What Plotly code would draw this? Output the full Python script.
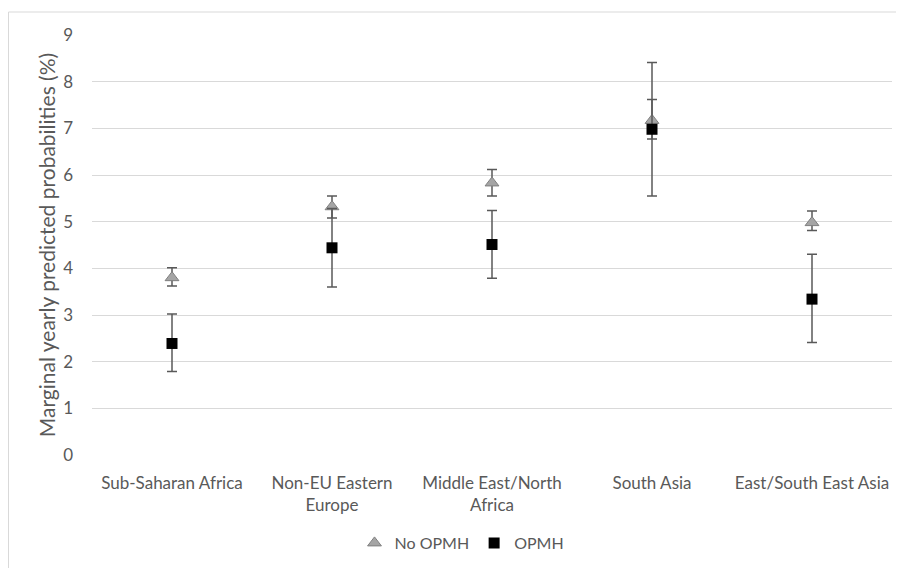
import plotly.graph_objects as go

categories = ["Sub-Saharan Africa", "Non-EU Eastern<br>Europe", "Middle East/North<br>Africa",
              "South Asia", "East/South East Asia"]
no_opmh = [3.80, 5.32, 5.83, 7.17, 4.98]
no_opmh_hi = [4.01, 5.55, 6.12, 7.62, 5.23]
no_opmh_lo = [3.62, 5.08, 5.55, 6.77, 4.81]
opmh = [2.39, 4.44, 4.51, 6.98, 3.34]
opmh_hi = [3.02, 5.28, 5.24, 8.41, 4.30]
opmh_lo = [1.79, 3.60, 3.79, 5.55, 2.41]

x = list(range(len(categories)))
font = "Lato, 'Open Sans', sans-serif"
grey = "#595959"

OFF = 8  # page body margin
W, H = 904, 568
L, R, T, B = 92 - OFF, W - (892 - OFF), 35 - OFF, H - (455 - OFF)
pw, ph = W - L - R, H - T - B

def px(xp):
    return (xp - OFF - L) / pw

def py(yp):
    return (H - B - (yp - OFF)) / ph

fig = go.Figure()
fig.add_trace(go.Scatter(
    x=x, y=no_opmh, mode="markers", name="No OPMH",
    marker=dict(symbol="triangle-up", size=12, color="#a5a5a5",
                line=dict(color="#7f7f7f", width=1)),
    error_y=dict(type="data", symmetric=False,
                 array=[h - v for h, v in zip(no_opmh_hi, no_opmh)],
                 arrayminus=[v - l for l, v in zip(no_opmh_lo, no_opmh)],
                 color=grey, thickness=1.5, width=5),
))
fig.add_trace(go.Scatter(
    x=x, y=opmh, mode="markers", name="OPMH",
    marker=dict(symbol="square", size=11, color="#000000"),
    error_y=dict(type="data", symmetric=False,
                 array=[h - v for h, v in zip(opmh_hi, opmh)],
                 arrayminus=[v - l for l, v in zip(opmh_lo, opmh)],
                 color=grey, thickness=1.5, width=5),
))

fig.update_layout(
    width=W, height=H,
    margin=dict(l=L, r=R, t=T, b=B),
    paper_bgcolor="white", plot_bgcolor="white",
    font=dict(family=font, size=17, color=grey),
    showlegend=True,
    legend=dict(orientation="h", x=px(462), xanchor="center", y=py(543), yanchor="middle",
                font=dict(size=16, color=grey), itemwidth=30, tracegroupgap=0),
    xaxis=dict(range=[-0.5, 4.5], tickmode="array", tickvals=x, ticktext=categories,
               showgrid=False, zeroline=False, showline=False, ticks="",
               automargin=False, ticklabelstandoff=16,
               tickfont=dict(size=17, color=grey)),
    yaxis=dict(range=[0, 9], dtick=1, showgrid=True, gridcolor="#d9d9d9", gridwidth=1,
               zeroline=False, showline=False, ticks="",
               automargin=False, ticklabelstandoff=18,
               tickfont=dict(size=17, color=grey),
               title=dict(text="Marginal yearly predicted probabilities (%)",
                          font=dict(size=21, color=grey), standoff=1)),
    shapes=[dict(type="rect", xref="paper", yref="paper",
                 x0=px(8.5), x1=px(920), y0=py(590), y1=py(12),
                 line=dict(color="#d9d9d9", width=1), fillcolor="rgba(0,0,0,0)", layer="below")],
)

fig.write_html("out.html")
